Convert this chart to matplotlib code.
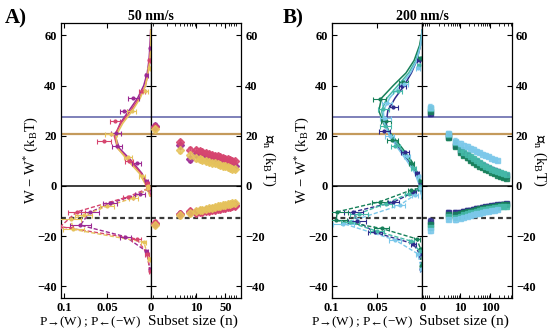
import numpy as np
import matplotlib
matplotlib.use("Agg")
import matplotlib.pyplot as plt
from matplotlib.ticker import LogLocator, NullFormatter

plt.rcParams.update({
    "font.family": "Liberation Serif",
    "font.weight": "bold",
    "font.size": 9,
    "mathtext.fontset": "stix",
    "axes.linewidth": 0.9,
    "xtick.direction": "in",
    "ytick.direction": "in",
    "xtick.major.size": 3.5,
    "ytick.major.size": 3.5,
    "xtick.minor.size": 2,
    "ytick.minor.size": 2,
})

# ---------------- panel A : 50 nm/s ----------------
A_colors = ["#9c2a93", "#d6456f", "#e6c35c"]

# forward work histograms (points) and fits (solid)
A_fwd_W = [[55, 44, 35, 30, 21, 16, 9, 2],
           [50, 38, 26, 18, 10, 1],
           [47, 38, 30, 20.6, 11.6, 4, 0]]
A_fwd_P = [[0.001, 0.005, 0.020, 0.031, 0.040, 0.039, 0.016, 0.005],
           [0.002, 0.010, 0.041, 0.054, 0.025, 0.004],
           [0.002, 0.006, 0.022, 0.046, 0.026, 0.010, 0.003]]
A_fwd_err = [[0.001, 0.002, 0.006, 0.004, 0.006, 0.006, 0.005, 0.002],
             [0.001, 0.004, 0.006, 0.008, 0.005, 0.002],
             [0.001, 0.003, 0.005, 0.007, 0.005, 0.003, 0.001]]
A_fit_W = [62, 55, 50, 45, 40, 35, 30, 25, 20, 15, 10, 5, 0, -4]
A_fit_P = [[0, 0.001, 0.002, 0.004, 0.008, 0.015, 0.025, 0.035, 0.041, 0.036, 0.022, 0.010, 0.003, 0],
           [0, 0.000, 0.001, 0.003, 0.006, 0.013, 0.023, 0.034, 0.042, 0.038, 0.024, 0.011, 0.004, 0],
           [0, 0.000, 0.001, 0.003, 0.006, 0.012, 0.021, 0.032, 0.040, 0.038, 0.026, 0.013, 0.005, 0.001]]

# reverse work histograms (dashed)
A_rev_W = [[-1, -3, -6.9, -10.5, -15.6, -20.2, -26, -33],
           [-1, -4.3, -10.3, -16.2, -21.1, -27, -34],
           [-1, -4.8, -8, -11.7, -13.2, -17.3, -22.3, -29]]
A_rev_P = [[0.002, 0.012, 0.047, 0.070, 0.081, 0.029, 0.005, 0.001],
           [0.003, 0.026, 0.085, 0.104, 0.016, 0.004, 0.001],
           [0.003, 0.020, 0.050, 0.077, 0.092, 0.089, 0.008, 0.002]]
A_rev_err = [[0.001, 0.006, 0.008, 0.010, 0.012, 0.006, 0.002, 0.001],
             [0.001, 0.006, 0.010, 0.015, 0.005, 0.002, 0.001],
             [0.001, 0.005, 0.008, 0.010, 0.012, 0.012, 0.003, 0.001]]

# B_n estimates vs subset size
A_n = [1, 4, 7, 10, 12, 14, 17, 20, 24, 28, 33, 38, 44, 50, 57, 65, 74, 84]
A_Bup = [[24.0, 16.2, 10.6, 12.8, 12.3, 11.9, 11.5, 11.1, 10.7, 10.4, 10.0, 9.7, 9.4, 9.1, 8.8, 8.5, 8.2, 8.0],
         [23.5, 17.5, 14.5, 14.2, 13.8, 13.5, 13.1, 12.8, 12.4, 12.1, 11.8, 11.5, 11.2, 10.9, 10.6, 10.3, 10.0, 9.8],
         [22.6, 14.2, 12.5, 11.0, 10.6, 10.2, 9.9, 9.6, 9.3, 9.0, 8.7, 8.4, 8.1, 7.8, 7.5, 7.2, 6.9, 6.6]]
A_Blo = [[-15.0, -11.2, -10.5, -10.3, -10.1, -9.9, -9.7, -9.5, -9.3, -9.1, -8.9, -8.7, -8.5, -8.3, -8.1, -7.9, -7.7, -7.5],
         [-14.6, -11.0, -10.0, -10.6, -10.4, -10.2, -10.0, -9.8, -9.6, -9.4, -9.2, -9.0, -8.8, -8.6, -8.4, -8.2, -8.0, -7.9],
         [-15.4, -11.6, -10.8, -9.9, -9.6, -9.4, -9.1, -8.9, -8.6, -8.4, -8.1, -7.9, -7.6, -7.4, -7.2, -7.0, -6.8, -6.6]]
A_Berr = [1.0, 1.0, 1.0, 0.9, 0.9, 0.8, 0.8, 0.8, 0.7, 0.7, 0.7, 0.6, 0.6, 0.6, 0.5, 0.5, 0.5, 0.5]

# ---------------- panel B : 200 nm/s ----------------
B_colors = ["#2e2a8c", "#17805a", "#45b9a8", "#7cc8ea"]

B_fwd_W = [[50, 40, 31.3, 22, 13.6, 5, 1],
           [50.8, 41.4, 34.8, 26, 18.5, 9, 2],
           [48, 38, 30.5, 24, 16, 7, 0],
           [47, 40.5, 33, 27, 20, 12, 4]]
B_fwd_P = [[0.004, 0.022, 0.032, 0.042, 0.019, 0.006, 0.002],
           [0.003, 0.021, 0.047, 0.040, 0.033, 0.012, 0.003],
           [0.004, 0.027, 0.043, 0.041, 0.030, 0.010, 0.002],
           [0.005, 0.020, 0.039, 0.041, 0.036, 0.017, 0.004]]
B_fwd_err = [[0.002, 0.004, 0.005, 0.006, 0.004, 0.002, 0.001],
             [0.002, 0.005, 0.007, 0.006, 0.006, 0.003, 0.001],
             [0.002, 0.005, 0.006, 0.006, 0.005, 0.003, 0.001],
             [0.002, 0.004, 0.006, 0.006, 0.005, 0.003, 0.001]]
B_fit_W = [62, 56, 50, 45, 40, 35, 30, 25, 20, 15, 10, 5, 0, -5]
B_fit_P = [[0, 0.002, 0.006, 0.012, 0.020, 0.030, 0.038, 0.040, 0.036, 0.026, 0.015, 0.006, 0.002, 0],
           [0, 0.003, 0.009, 0.018, 0.032, 0.045, 0.048, 0.043, 0.033, 0.022, 0.012, 0.005, 0.001, 0],
           [0, 0.002, 0.007, 0.015, 0.027, 0.039, 0.045, 0.042, 0.034, 0.024, 0.014, 0.006, 0.002, 0],
           [0, 0.002, 0.006, 0.013, 0.024, 0.036, 0.043, 0.042, 0.036, 0.027, 0.017, 0.008, 0.003, 0]]

B_rev_W = [[-1, -2.5, -6.5, -10.3, -14, -18.5, -23, -27, -33],
           [-1, -1.6, -6.3, -10.3, -13.7, -16.9, -21.1, -25, -32],
           [-1, -3, -7, -11, -14.5, -18, -22, -26],
           [-1, -3.5, -7.7, -15, -21.5, -27, -33]]
B_rev_P = [[0.002, 0.010, 0.032, 0.076, 0.072, 0.052, 0.010, 0.003, 0.001],
           [0.004, 0.012, 0.047, 0.094, 0.095, 0.045, 0.006, 0.002, 0.001],
           [0.003, 0.015, 0.040, 0.070, 0.080, 0.050, 0.012, 0.003],
           [0.002, 0.008, 0.025, 0.087, 0.030, 0.005, 0.001]]
B_rev_err = [[0.001, 0.003, 0.006, 0.010, 0.010, 0.008, 0.003, 0.001, 0.001],
             [0.001, 0.004, 0.008, 0.012, 0.012, 0.008, 0.003, 0.001, 0.001],
             [0.001, 0.004, 0.007, 0.010, 0.010, 0.008, 0.003, 0.001],
             [0.001, 0.003, 0.006, 0.012, 0.007, 0.002, 0.001]]

B_n = [1, 4, 7, 10, 13, 17, 22, 28, 35, 44, 55, 70, 88, 110, 140, 175, 220, 280, 350]
B_Bup = [[29.0, 20.0, 16.5, 14.2, 13.2, 12.2, 11.3, 10.5, 9.8, 9.1, 8.5, 7.9, 7.3, 6.8, 6.3, 5.8, 5.3, 4.9, 4.5],
         [30.0, 19.5, 16.0, 13.6, 12.5, 11.4, 10.4, 9.6, 8.8, 8.1, 7.4, 6.8, 6.2, 5.6, 5.0, 4.5, 4.0, 3.6, 3.3],
         [31.0, 20.5, 17.5, 14.8, 13.7, 12.7, 11.8, 11.0, 10.2, 9.4, 8.7, 8.0, 7.4, 6.9, 6.4, 5.9, 5.5, 5.1, 4.8],
         [31.5, 21.0, 18.0, 17.0, 16.4, 15.8, 15.2, 14.6, 14.0, 13.4, 12.9, 12.3, 11.8, 11.2, 10.7, 10.2]]
B_Blo = [[-14.0, -10.5, -10.5, -10.3, -10.0, -9.7, -9.4, -9.1, -8.9, -8.6, -8.4, -8.1, -7.9, -7.7, -7.5, -7.3, -7.1, -7.0, -6.9],
         [-15.0, -11.0, -11.2, -10.9, -10.5, -10.1, -9.8, -9.5, -9.2, -8.9, -8.6, -8.4, -8.2, -8.0, -7.8, -7.6, -7.4, -7.3, -7.2],
         [-16.5, -12.0, -12.2, -11.8, -11.3, -10.9, -10.5, -10.2, -9.9, -9.6, -9.3, -9.0, -8.8, -8.6, -8.4, -8.2, -8.0, -7.9, -7.8],
         [-17.5, -13.0, -13.3, -12.8, -12.3, -11.9, -11.5, -11.2, -10.9, -10.6, -10.3, -10.1, -9.9, -9.7, -9.5, -9.3]]
B_Berr = [1.2, 1.0, 1.0, 0.9, 0.9, 0.9, 0.8, 0.8, 0.8, 0.7, 0.7, 0.7, 0.6, 0.6, 0.6, 0.5, 0.5, 0.5, 0.5]

# reference levels (kBT)
level_blue = 27.5
level_tan = 20.6
level_zero = 0.0
level_dash = -12.9


def draw_panel(axL, axR, colors, fwd_W, fwd_P, fwd_err, fit_W, fit_P,
               rev_W, rev_P, rev_err, n, Bup, Blo, Berr, marker,
               pmax, nlim, nticks, title):
    for ax in (axL, axR):
        ax.axhline(level_blue, color="#5b5ea6", lw=1.1, zorder=1)
        ax.axhline(level_tan, color="#c49a5c", lw=1.6, zorder=1)
        ax.axhline(level_zero, color="#3c3c3c", lw=1.4, zorder=1)
        ax.axhline(level_dash, color="#3a3a3a", lw=1.6, ls=(0, (2.2, 1.6)), zorder=1)

    for i, c in enumerate(colors):
        axL.plot(fit_P[i], fit_W, color=c, lw=1.1, zorder=3)
        axL.errorbar(fwd_P[i], fwd_W[i], xerr=fwd_err[i], fmt="o", ms=2, color=c,
                     elinewidth=0.8, capsize=1.8, capthick=0.8, zorder=4)
        axL.plot(rev_P[i], rev_W[i], color=c, lw=1.0, ls=(0, (3, 1.5)), zorder=3)
        axL.errorbar(rev_P[i], rev_W[i], xerr=rev_err[i], fmt="o", ms=2, color=c,
                     elinewidth=0.8, capsize=1.8, capthick=0.8, zorder=4)

        nu = n[:len(Bup[i])]
        axR.errorbar(nu, Bup[i], yerr=Berr[:len(Bup[i])], fmt=marker, ms=3.6, color=c,
                     mec=c, alpha=0.85, elinewidth=0.6, capsize=1.2, zorder=4)
        nl = n[:len(Blo[i])]
        axR.errorbar(nl, Blo[i], yerr=Berr[:len(Blo[i])], fmt=marker, ms=3.6, color=c,
                     mec=c, alpha=0.85, elinewidth=0.6, capsize=1.2, zorder=4)

    axL.set_xlim(pmax, 0)
    axL.set_ylim(-44.6, 65)
    axL.set_xticks([0.1, 0.05, 0])
    axL.set_xticklabels(["0.1", "0.05", "0"])
    axL.set_yticks([-40, -20, 0, 20, 40, 60])
    axL.tick_params(top=True, right=True, left=True, bottom=True, pad=3)
    axL.set_xlabel(r"P$_{\rightarrow}$(W) ; P$_{\leftarrow}$($\mathregular{-}$W)",
                   fontsize=9.5)
    axL.xaxis.set_label_coords(0.33, -0.06)
    axL.set_ylabel(r"W $\mathregular{-}$ W$^\mathregular{*}$ (k$_\mathregular{B}$T)",
                   fontsize=10.5, labelpad=-2)

    axR.set_xscale("log")
    axR.set_xlim(*nlim)
    axR.set_xticks(nticks)
    axR.set_xticklabels([str(t) for t in nticks])
    axR.xaxis.set_minor_locator(LogLocator(base=10, subs=np.arange(2, 10)))
    axR.xaxis.set_minor_formatter(NullFormatter())
    axR.set_yticks([-40, -20, 0, 20, 40, 60])
    axR.tick_params(which="both", top=True, right=True, left=True, bottom=True,
                    labelleft=False, labelright=True, pad=3)
    axR.set_xlabel("Subset size (n)", fontsize=11)
    axR.xaxis.set_label_coords(0.47, -0.06)
    axR.yaxis.set_label_position("right")
    axR.set_ylabel(r"$\mathcal{B}_\mathregular{n}$ (k$_\mathregular{B}$T)", fontsize=10.5,
                   rotation=270, labelpad=9)

    axR.set_title(title, fontsize=10, fontweight="bold", x=0.0, pad=2)


fig = plt.figure(figsize=(5.5, 3.31), dpi=100)

axAL = fig.add_axes([0.1104, 0.0997, 0.1636, 0.8317])
axAR = fig.add_axes([0.2740, 0.0997, 0.1642, 0.8317], sharey=axAL)
axBL = fig.add_axes([0.6031, 0.0997, 0.1647, 0.8317])
axBR = fig.add_axes([0.7678, 0.0997, 0.1625, 0.8317], sharey=axBL)

draw_panel(axAL, axAR, A_colors, A_fwd_W, A_fwd_P, A_fwd_err, A_fit_W, A_fit_P,
           A_rev_W, A_rev_P, A_rev_err, A_n, A_Bup, A_Blo, A_Berr, "D",
           0.1035, (0.79, 119), [10, 50], "50 nm/s")
draw_panel(axBL, axBR, B_colors, B_fwd_W, B_fwd_P, B_fwd_err, B_fit_W, B_fit_P,
           B_rev_W, B_rev_P, B_rev_err, B_n, B_Bup, B_Blo, B_Berr, "s",
           0.1, (0.55, 530), [10, 100], "200 nm/s")

fig.text(0.008, 0.975, "A)", fontsize=15, fontweight="bold", va="top", ha="left")
fig.text(0.513, 0.975, "B)", fontsize=15, fontweight="bold", va="top", ha="left")

plt.savefig("out.png", dpi=100)
